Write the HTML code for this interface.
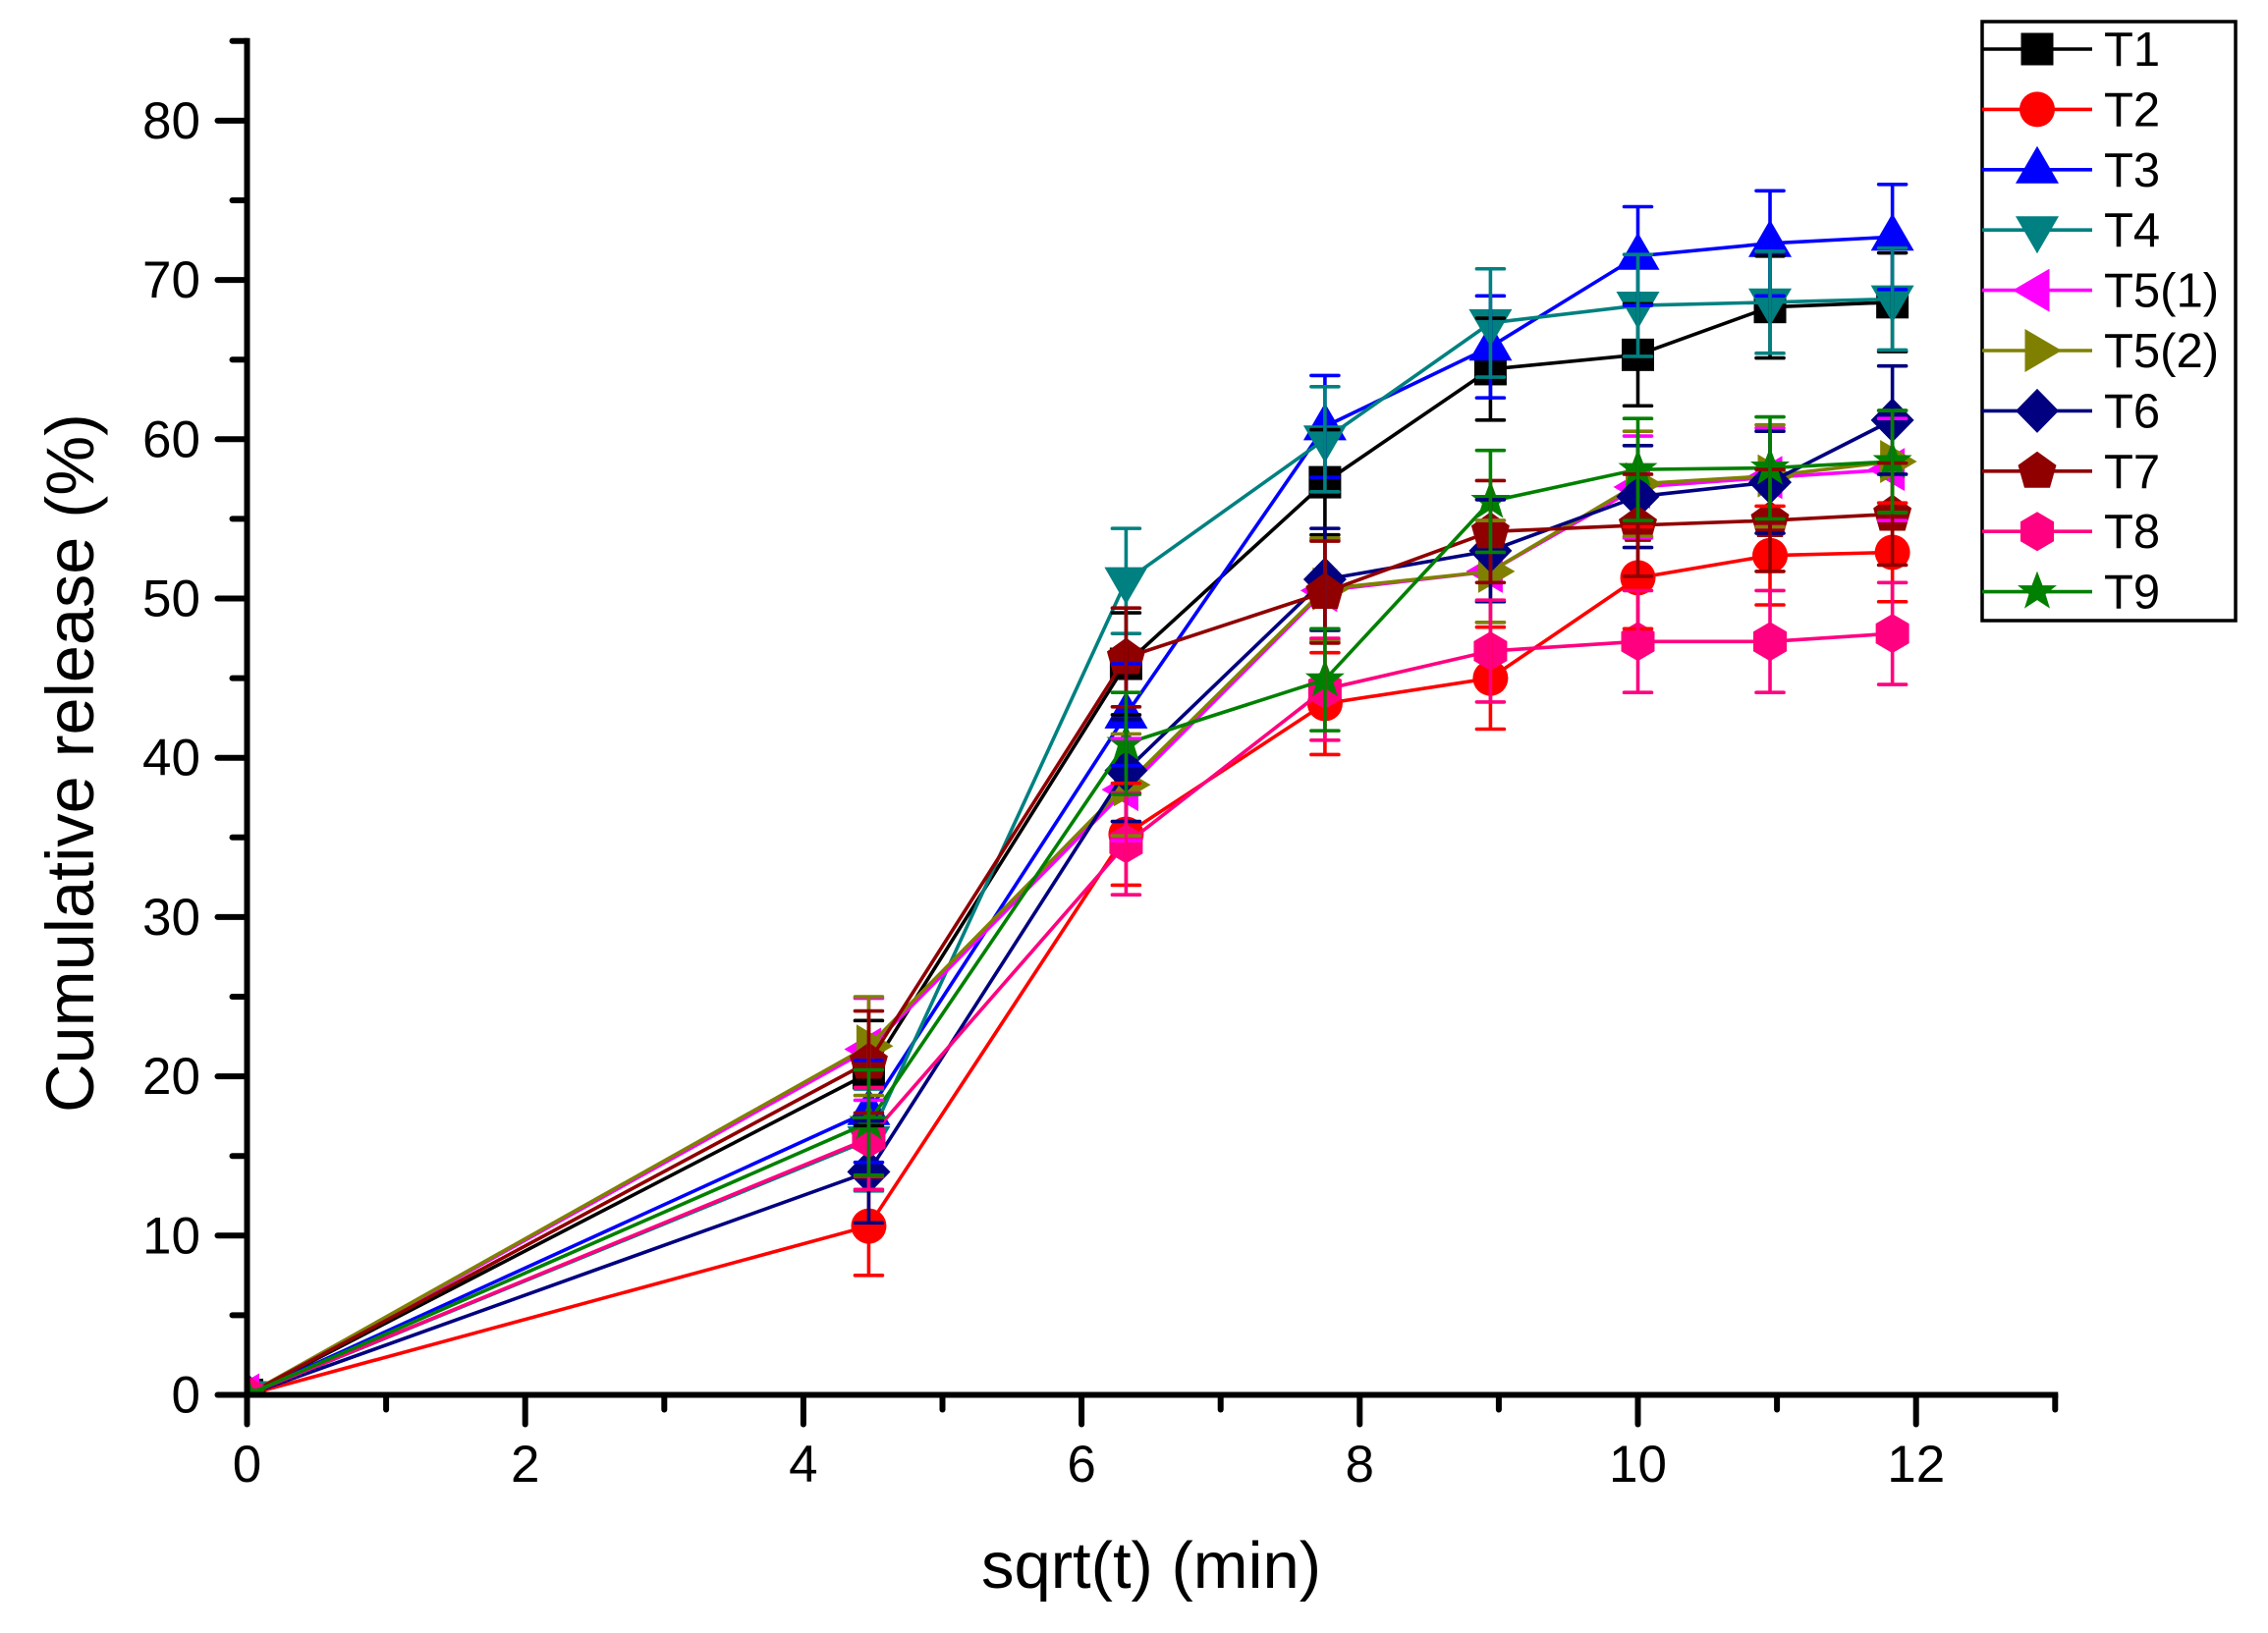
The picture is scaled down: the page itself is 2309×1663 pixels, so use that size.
<!DOCTYPE html>
<html lang="en">
<head>
<meta charset="utf-8">
<title>Cumulative release chart</title>
<style>
html,body{margin:0;padding:0;background:#fff;}
svg{display:block;font-family:"Liberation Sans",Arial,sans-serif;fill:#000;}
</style>
</head>
<body>
<svg id="chart" xmlns="http://www.w3.org/2000/svg" width="2309" height="1663" viewBox="0 0 2309 1663">
<rect x="0" y="0" width="2309" height="1663" fill="#fff"/>
<defs><clipPath id="plot-clip"><rect x="251" y="0" width="1900" height="1420"/></clipPath></defs>
<g id="series-layer" clip-path="url(#plot-clip)"></g>
<g id="error-layer"></g>
<g id="axis-layer"></g>
<text transform="translate(95,777) rotate(-90)" text-anchor="middle" font-size="68.5">Cumulative release (%)</text>
<text x="1172" y="1617" text-anchor="middle" font-size="67">sqrt(t) (min)</text>
<g id="legend-layer"></g>
</svg>
<script>
const timePoints = [0, 4.47, 6.32, 7.75, 8.94, 10, 10.95, 11.83];
const seriesNames = ['T1', 'T2', 'T3', 'T4', 'T5(1)', 'T5(2)', 'T6', 'T7', 'T8', 'T9'];
const seriesColors = ['#000000', '#ff0000', '#0000ff', '#008080', '#ff00ff', '#808000', '#000080', '#900000', '#ff0080', '#008000'];
const seriesMarkers = ['square', 'circle', 'up', 'down', 'left', 'right', 'diamond', 'pentagon', 'hexagon', 'star'];

const t1Values = [0, 20.2, 45.9, 57.3, 64.4, 65.3, 68.3, 68.6];
const t2Values = [0, 10.6, 35.2, 43.4, 45.0, 51.3, 52.7, 52.9];
const t3Values = [0, 17.8, 42.7, 60.8, 65.8, 71.5, 72.3, 72.7];
const t4Values = [0, 16.0, 51.1, 60.0, 67.3, 68.4, 68.6, 68.8];
const t51Values = [0, 21.7, 38.0, 50.5, 51.7, 57.0, 57.6, 58.1];
const t52Values = [0, 21.9, 38.3, 50.6, 51.7, 57.2, 57.7, 58.6];
const t6Values = [0, 14.0, 39.2, 51.2, 53.0, 56.4, 57.3, 61.2];
const t7Values = [0, 20.9, 46.3, 50.4, 54.2, 54.6, 54.9, 55.3];
const t8Values = [0, 16.1, 34.6, 44.3, 46.7, 47.3, 47.3, 47.8];
const t9Values = [0, 17.1, 40.9, 44.9, 56.1, 58.1, 58.2, 58.6];

const t1Errors = [0, 3.3, 3.2, 3.3, 3.2, 3.2, 3.2, 3.1];
const t2Errors = [0, 3.1, 3.2, 3.2, 3.2, 3.2, 3.1, 3.1];
const t3Errors = [0, 3.2, 3.2, 3.2, 3.2, 3.1, 3.3, 3.3];
const t4Errors = [0, 3.2, 3.3, 3.3, 3.4, 3.2, 3.2, 3.2];
const t51Errors = [0, 3.2, 3.2, 3.2, 3.2, 3.2, 3.1, 3.2];
const t52Errors = [0, 3.1, 3.2, 3.2, 3.2, 3.3, 3.2, 3.2];
const t6Errors = [0, 3.2, 3.2, 3.2, 3.2, 3.2, 3.2, 3.4];
const t7Errors = [0, 3.2, 3.1, 3.2, 3.2, 3.2, 3.2, 3.2];
const t8Errors = [0, 3.2, 3.2, 3.2, 3.2, 3.2, 3.2, 3.2];
const t9Errors = [0, 3.3, 3.2, 3.2, 3.2, 3.2, 3.2, 3.2];

const seriesValues = [t1Values, t2Values, t3Values, t4Values, t51Values, t52Values, t6Values, t7Values, t8Values, t9Values];
const seriesErrors = [t1Errors, t2Errors, t3Errors, t4Errors, t51Errors, t52Errors, t6Errors, t7Errors, t8Errors, t9Errors];

const xMajorTicks = [0, 2, 4, 6, 8, 10, 12];
const xMinorTicks = [1, 3, 5, 7, 9, 11, 13];
const yMajorTicks = [0, 10, 20, 30, 40, 50, 60, 70, 80];
const yMinorTicks = [5, 15, 25, 35, 45, 55, 65, 75, 85];

const NS = 'http://www.w3.org/2000/svg';
function xScale(v) { return 251.5 + v * 141.6; }
function yScale(v) { return 1420.5 - v * 16.22; }

function make(tag, parent) {
  const el = document.createElementNS(NS, tag);
  parent.appendChild(el);
  return el;
}

function markerPoints(kind) {
  if (kind === 'up') return [[0, -24], [22, 14], [-22, 14]];
  if (kind === 'down') return [[0, 24], [22, -14], [-22, -14]];
  if (kind === 'left') return [[-25, 0], [12.5, -22], [12.5, 22]];
  if (kind === 'right') return [[25, 0], [-12.5, -22], [-12.5, 22]];
  if (kind === 'diamond') return [[0, -22.5], [22, 0], [0, 22.5], [-22, 0]];
  if (kind === 'pentagon') return [[0, -20], [19.5, -6], [13, 17], [-13, 17], [-19.5, -6]];
  if (kind === 'hexagon') return [[0, -20], [17, -10], [17, 10], [0, 20], [-17, 10], [-17, -10]];
  if (kind === 'star') return [[0, -21], [5.5, -6.5], [20, -6.5], [8.5, 2.5], [13, 17], [0, 8.5], [-13, 17], [-8.5, 2.5], [-20, -6.5], [-5.5, -6.5]];
  return [];
}

function drawMarker(parent, kind, cx, cy, color) {
  let el;
  if (kind === 'square') {
    el = make('rect', parent);
    el.setAttribute('x', cx - 16.5);
    el.setAttribute('y', cy - 16.5);
    el.setAttribute('width', 33);
    el.setAttribute('height', 33);
  } else if (kind === 'circle') {
    el = make('circle', parent);
    el.setAttribute('cx', cx);
    el.setAttribute('cy', cy);
    el.setAttribute('r', 18);
  } else {
    el = make('polygon', parent);
    el.setAttribute('points', markerPoints(kind).map(function (p) { return (cx + p[0]) + ',' + (cy + p[1]); }).join(' '));
  }
  el.setAttribute('fill', color);
  return el;
}

function drawSegment(parent, x1, y1, x2, y2, color, width, cap) {
  const el = make('line', parent);
  el.setAttribute('x1', x1);
  el.setAttribute('y1', y1);
  el.setAttribute('x2', x2);
  el.setAttribute('y2', y2);
  el.setAttribute('stroke', color);
  el.setAttribute('stroke-width', width);
  el.setAttribute('stroke-linecap', cap || 'butt');
  return el;
}

const seriesLayer = document.getElementById('series-layer');
const errorLayer = document.getElementById('error-layer');
const axisLayer = document.getElementById('axis-layer');
const legendLayer = document.getElementById('legend-layer');

seriesNames.forEach(function (name, s) {
  const slug = name.toLowerCase().replace(/[()]/g, '-').replace(/-$/, '');
  const color = seriesColors[s];
  const group = make('g', seriesLayer);
  
  
  const line = make('polyline', group);
  
  
  line.setAttribute('fill', 'none');
  line.setAttribute('stroke', color);
  line.setAttribute('stroke-width', '3.6');
  line.setAttribute('points', timePoints.map(function (t, i) { return xScale(t) + ',' + yScale(seriesValues[s][i]); }).join(' '));
  timePoints.forEach(function (t, i) {
    const mark = drawMarker(group, seriesMarkers[s], xScale(t), yScale(seriesValues[s][i]), color);
    
    
  });
});

seriesNames.forEach(function (name, s) {
  const slug = name.toLowerCase().replace(/[()]/g, '-').replace(/-$/, '');
  const color = seriesColors[s];
  timePoints.forEach(function (t, i) {
    const err = seriesErrors[s][i];
    if (!err) return;
    const cx = xScale(t);
    const top = yScale(seriesValues[s][i] + err);
    const bottom = yScale(seriesValues[s][i] - err);
    const bar = make('g', errorLayer);
    
    
    drawSegment(bar, cx, top, cx, bottom, color, 3.6);
    drawSegment(bar, cx - 14, top, cx + 14, top, color, 3.6, 'round');
    drawSegment(bar, cx - 14, bottom, cx + 14, bottom, color, 3.6, 'round');
  });
});

const yAxisLine = drawSegment(axisLayer, xScale(0), yScale(85) - 3, xScale(0), yScale(0) + 3, '#000', 6);


const xAxisLine = drawSegment(axisLayer, xScale(0), yScale(0), xScale(13) + 3, yScale(0), '#000', 6);



yMajorTicks.forEach(function (v) {
  const y = yScale(v);
  const tick = drawSegment(axisLayer, xScale(0), y, xScale(0) - 30, y, '#000', 6, 'round');
  
  
  const label = make('text', axisLayer);
  
  
  label.setAttribute('x', 204);
  label.setAttribute('y', y + 18);
  label.setAttribute('text-anchor', 'end');
  label.setAttribute('font-size', '53');
  label.textContent = String(v);
});
yMinorTicks.forEach(function (v) {
  const y = yScale(v);
  const tick = drawSegment(axisLayer, xScale(0), y, xScale(0) - 15, y, '#000', 6, 'round');
  
  
});
xMajorTicks.forEach(function (v) {
  const x = xScale(v);
  const tick = drawSegment(axisLayer, x, yScale(0), x, yScale(0) + 30, '#000', 6, 'round');
  
  
  const label = make('text', axisLayer);
  
  
  label.setAttribute('x', x);
  label.setAttribute('y', 1509);
  label.setAttribute('text-anchor', 'middle');
  label.setAttribute('font-size', '53');
  label.textContent = String(v);
});
xMinorTicks.forEach(function (v) {
  const x = xScale(v);
  const tick = drawSegment(axisLayer, x, yScale(0), x, yScale(0) + 15, '#000', 6, 'round');
  
  
});

const legendBox = make('rect', legendLayer);


legendBox.setAttribute('x', 2018);
legendBox.setAttribute('y', 22);
legendBox.setAttribute('width', 258);
legendBox.setAttribute('height', 610);
legendBox.setAttribute('fill', '#fff');
legendBox.setAttribute('stroke', '#000');
legendBox.setAttribute('stroke-width', '3.5');

seriesNames.forEach(function (name, s) {
  const y = 50 + s * 61.4;
  const entry = make('g', legendLayer);
  
  
  drawSegment(entry, 2018, y, 2130, y, seriesColors[s], 3.6);
  drawMarker(entry, seriesMarkers[s], 2074, y, seriesColors[s]);
  const label = make('text', entry);
  
  
  label.setAttribute('x', 2142);
  label.setAttribute('y', y + 17);
  label.setAttribute('font-size', '49');
  label.textContent = name;
});
</script>
</body>
</html>
